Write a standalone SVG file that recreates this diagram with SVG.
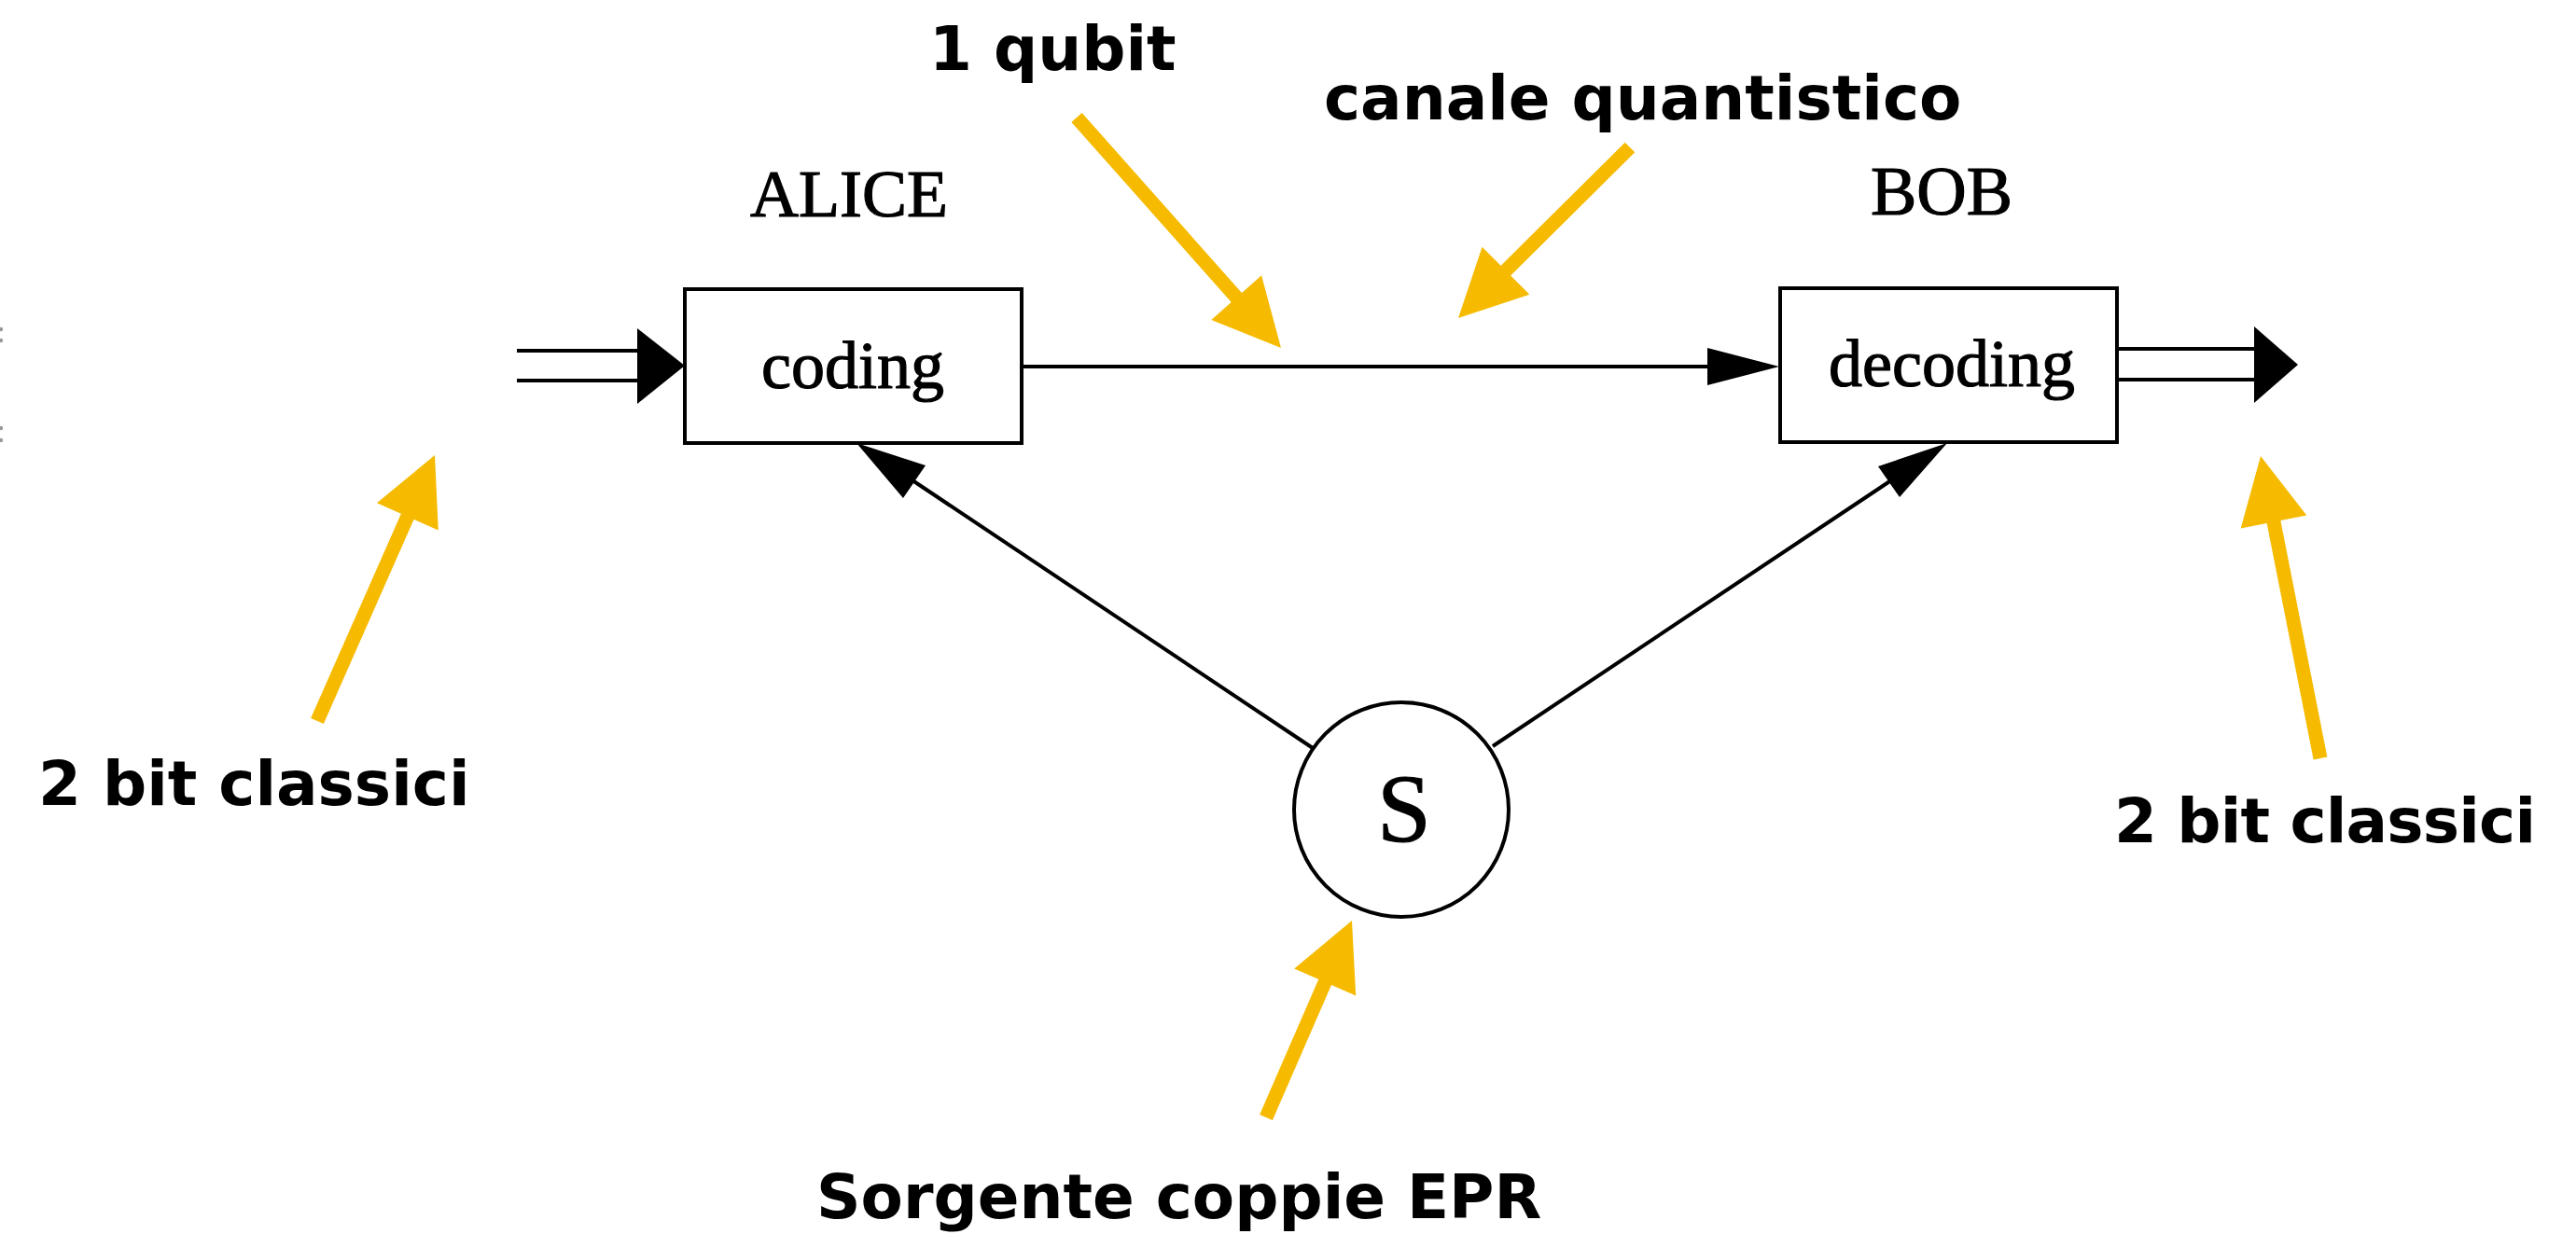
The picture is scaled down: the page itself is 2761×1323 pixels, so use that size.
<svg xmlns="http://www.w3.org/2000/svg" width="2761" height="1323" viewBox="0 0 2761 1323">
<style>
.box{fill:#fff;stroke:#000;stroke-width:4}
.ln{stroke:#000;stroke-width:4;fill:none}
.hd{fill:#000}
.serif{font-family:"Liberation Serif","Times New Roman",serif;fill:#000;stroke:#000;stroke-width:1.2}
.lab{font-family:"DejaVu Sans",Verdana,sans-serif;font-weight:bold;font-size:66px;fill:#000}
.ys{stroke:#F6BB00;stroke-width:15;fill:none}
.yh{fill:#F6BB00}
</style>
<rect width="2761" height="1323" fill="#fff"/>
<g id="edge-marks" fill="#999">
<circle cx="1" cy="353" r="2.2"/><circle cx="1" cy="365" r="2.2"/>
<circle cx="1" cy="459" r="2.2"/><circle cx="1" cy="472" r="2.2"/>
</g>
<g id="connectors">
<line class="ln" x1="554" y1="376" x2="690" y2="376"/>
<line class="ln" x1="554" y1="408" x2="690" y2="408"/>
<polygon class="hd" points="683,352 734,392 683,433"/>
<line class="ln" x1="1095" y1="393" x2="1835" y2="393"/>
<polygon class="hd" points="1830,373 1907,393 1830,413"/>
<line class="ln" x1="2269" y1="374" x2="2420" y2="374"/>
<line class="ln" x1="2269" y1="407" x2="2420" y2="407"/>
<polygon class="hd" points="2416,350 2463,391 2416,432"/>
<line class="ln" x1="1407" y1="802" x2="975" y2="513"/>
<polygon class="hd" points="918,475 992,499 968,534"/>
<line class="ln" x1="1600" y1="800" x2="2030" y2="513"/>
<polygon class="hd" points="2087,475 2036,533 2013,500"/>
</g>
<g id="alice">
<text class="serif" x="910" y="232" font-size="72" text-anchor="middle">ALICE</text>
<rect class="box" x="734" y="310" width="361" height="165"/>
<text class="serif" x="914" y="416" font-size="72" text-anchor="middle">coding</text>
</g>
<g id="bob">
<text class="serif" x="2081" y="230" font-size="74" text-anchor="middle">BOB</text>
<rect class="box" x="1908" y="309" width="361" height="165"/>
<text class="serif" x="2092" y="414" font-size="72" text-anchor="middle">decoding</text>
</g>
<g id="source">
<circle class="box" cx="1502" cy="868" r="115"/>
<text class="serif" x="1505" y="902" font-size="104" text-anchor="middle">S</text>
</g>
<g id="annotations">
<text class="lab" x="996" y="75">1 qubit</text>
<line class="ys" x1="1154" y1="126" x2="1328" y2="322"/>
<polygon class="yh" points="1373,373 1298.3,343 1352.1,295.2"/>
<text class="lab" x="1419" y="128">canale quantistico</text>
<line class="ys" x1="1747" y1="158" x2="1612" y2="292"/>
<polygon class="yh" points="1563,341 1588.6,264.7 1639.4,315.7"/>
<text class="lab" x="41" y="863">2 bit classici</text>
<line class="ys" x1="340" y1="773" x2="438" y2="551"/>
<polygon class="yh" points="466,488 469.8,568.5 404,539.3"/>
<text class="lab" x="2266" y="903" textLength="452">2 bit classici</text>
<line class="ys" x1="2487" y1="813" x2="2436.5" y2="557"/>
<polygon class="yh" points="2423,489 2472.3,552.6 2401.7,566.6"/>
<text class="lab" x="875" y="1306">Sorgente coppie EPR</text>
<line class="ys" x1="1357" y1="1198" x2="1421" y2="1051"/>
<polygon class="yh" points="1449,987 1453.2,1067.4 1387.2,1038.6"/>
</g>
</svg>
